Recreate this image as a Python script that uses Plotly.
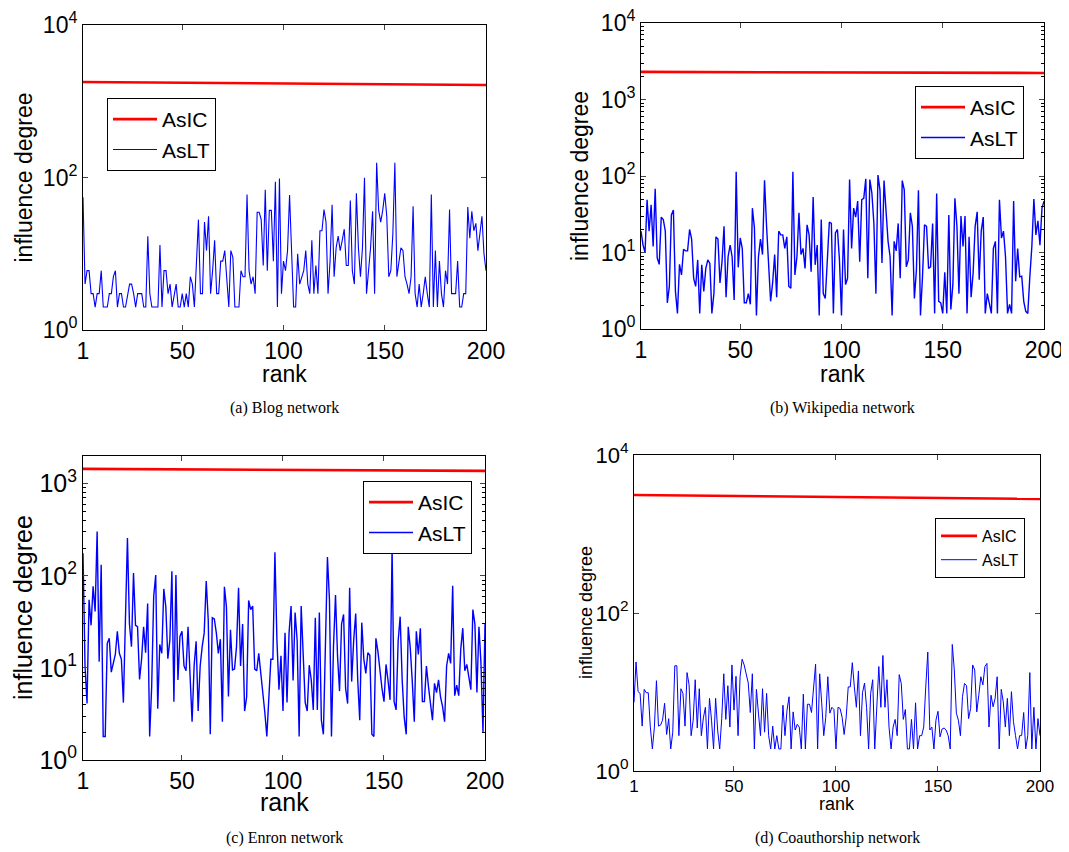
import plotly.graph_objects as go

ranks = list(range(1, 201))
ic_ranks = [1, 50, 100, 150, 200]

# ---------- (a) Blog network ----------
a_ic = [1790, 1760, 1710, 1670, 1630]
a_lt = [55, 4, 6, 6, 3, 3, 2, 3, 3, 6,
        2, 2, 2, 3, 3, 5, 6, 2, 3, 3,
        2, 2, 3, 4, 4, 3, 2, 3, 3, 3,
        2, 2, 17, 3, 2, 2, 2, 2, 13, 2,
        6, 6, 3, 4, 2, 3, 4, 2, 2, 3,
        2, 3, 2, 5, 4, 2, 8, 28, 3, 3,
        26, 11, 31, 3, 6, 15, 3, 3, 8, 8,
        11, 4, 2, 11, 9, 2, 2, 2, 6, 5,
        5, 60, 6, 4, 5, 3, 35, 35, 28, 7,
        69, 6, 37, 37, 8, 88, 2, 97, 3, 8,
        6, 11, 59, 11, 2, 2, 10, 4, 5, 6,
        11, 4, 3, 15, 3, 7, 3, 20, 20, 38,
        26, 3, 8, 44, 5, 12, 17, 11, 15, 21,
        7, 7, 50, 6, 4, 62, 12, 5, 12, 99,
        3, 6, 12, 36, 3, 156, 37, 26, 37, 62,
        31, 5, 6, 18, 156, 5, 8, 12, 11, 5,
        4, 3, 5, 42, 3, 2, 4, 2, 3, 5,
        3, 2, 60, 2, 11, 2, 8, 3, 2, 6,
        4, 38, 3, 3, 3, 8, 2, 2, 3, 3,
        41, 16, 36, 20, 25, 11, 20, 31, 10, 6]

# ---------- (b) Wikipedia network ----------
b_ic = [2300, 2280, 2260, 2240, 2220]
b_lt = [19, 12.5, 10, 49, 19, 42, 12, 68, 8.5, 7,
        29, 27, 19, 2.2, 3.6, 31, 36, 3.1, 1.6, 7,
        5.1, 11, 10.5, 10.5, 20, 15, 4.6, 3.6, 8, 1.6,
        6.9, 3.1, 6.2, 8, 7.2, 1.6, 2.9, 16, 15, 4,
        7.6, 22, 2.6, 8.8, 12.5, 8.8, 2.4, 114, 6.4, 15.5,
        11.3, 2.2, 2.2, 2.9, 2.1, 38, 21, 1.5, 8.8, 15,
        9.4, 88, 22, 8, 2.3, 4, 9.4, 2.6, 19, 17,
        17, 11.3, 16, 3.6, 3.4, 114, 5.1, 8.8, 33, 9.4,
        11.3, 6.2, 23, 17, 5.6, 53, 6.9, 12.5, 1.5, 27,
        2.9, 2.5, 8.8, 25, 24, 1.6, 18, 20, 8, 1.5,
        20, 3.8, 4.6, 90, 11.3, 38, 29, 47, 7.6, 49,
        51, 92, 4.6, 90, 60, 24, 2.9, 103, 66, 7.3,
        87, 40, 14, 8.8, 1.5, 14, 10.5, 24, 4.6, 87,
        66, 6.5, 8, 33, 22, 2.5, 5.9, 65, 1.5, 4.8,
        23, 22, 6.2, 6.5, 24, 1.6, 59, 2.3, 2.2, 1.6,
        5.5, 1.6, 31, 1.8, 3.8, 51, 22, 2.9, 30, 12,
        30, 1.6, 16, 2.6, 5.4, 22, 34, 4.4, 19, 29,
        1.6, 2.9, 2.2, 1.6, 11.3, 14, 1.6, 49, 15.5, 19,
        8.8, 1.6, 2.1, 1.6, 47, 4.2, 11.3, 4.8, 4.9, 2.3,
        1.7, 1.6, 4.8, 12, 50, 17, 26, 12.5, 38, 47]

# ---------- (c) Enron network ----------
c_ic = [1450, 1430, 1410, 1395, 1380]
c_lt = [176, 10.5, 4.1, 55, 29, 77, 41, 303, 11.7, 132,
        1.8, 1.8, 18.5, 21, 9, 11.2, 14, 25, 14.4, 12.4,
        4.2, 33, 257, 30, 17, 107, 29, 28, 7.5, 12.4,
        28, 14.6, 50, 1.8, 6.3, 60, 102, 3.6, 18, 14.4,
        72, 46, 12.6, 20, 112, 4.3, 102, 7.4, 22, 25,
        10.5, 9.3, 28, 8.2, 2.6, 10.5, 19.5, 3.4, 10.5, 17,
        24, 88, 33, 1.9, 35, 34, 24, 14.4, 20.5, 2.6,
        76, 46, 4.9, 26, 9.5, 9.7, 17, 74, 10.5, 30,
        3.4, 4.8, 54, 43, 47, 9.7, 9.3, 14.4, 9.3, 5.4,
        3.3, 1.8, 4.1, 12.4, 12.4, 180, 20, 5.8, 13.5, 3.4,
        24, 4.2, 24, 47, 7.3, 40, 20, 1.8, 47, 14,
        4.2, 3.4, 10.7, 7.4, 3.5, 35, 3.5, 40, 2.7, 1.9,
        16.5, 160, 55, 1.8, 17, 62, 13.5, 5.6, 30, 38,
        6, 4.1, 74, 7.1, 20, 39, 7.4, 2.7, 31, 12.6,
        8.7, 14.6, 13.7, 1.9, 1.8, 21, 15, 9.3, 6, 4.3,
        10.9, 7.3, 4.5, 200, 4.3, 3.5, 19.5, 36, 7.4, 2.9,
        1.9, 28, 16.5, 7.1, 2.6, 25, 14, 27, 4.3, 4.3,
        10.5, 6.3, 4.1, 2.7, 6.8, 5.4, 7.4, 4.8, 3.8, 2.6,
        10.5, 14.4, 11.2, 78, 5, 6.5, 5, 16, 27, 9.3,
        10.9, 8.2, 5.8, 43, 30, 5.4, 28, 11.2, 2.0, 30]

# ---------- (d) Coauthorship network ----------
d_ic = [3120, 3030, 2940, 2860, 2780]
d_lt = [7.4, 24, 10.1, 9.6, 3.7, 10.8, 9.8, 9.8, 3.6, 1.9,
        3.6, 13.9, 3.7, 3.8, 4.4, 7.2, 2.9, 4.6, 1.9, 3.1,
        21.5, 21.5, 2.8, 11, 9.6, 3.7, 17.6, 12.3, 2.8, 4.4,
        14.3, 3.5, 11, 2.8, 4.7, 6.4, 1.9, 8.3, 4.4, 1.9,
        8.3, 3.3, 1.9, 4.6, 17, 4.5, 12, 3.6, 22, 5.9,
        15.8, 2.8, 15.6, 26, 22, 17, 13, 5.5, 17, 1.9,
        10.8, 5.4, 2.8, 11, 3.1, 9.6, 2.8, 1.9, 3.7, 1.9,
        2.8, 1.9, 1.9, 6.8, 2.8, 5.9, 8.7, 1.9, 5.6, 3.3,
        3.9, 3.6, 1.9, 9.4, 1.9, 7, 7, 5.5, 13, 22.5,
        1.9, 17, 7.3, 2.8, 4.8, 15.6, 5.4, 6.4, 6, 1.9,
        6.4, 6.2, 4.8, 2.9, 4.8, 11.6, 11.6, 23.5, 11.6, 6.4,
        18.5, 2.8, 9.8, 13, 6.4, 1.9, 9.6, 14.3, 1.9, 5.9,
        21, 6.4, 29, 6.4, 14.3, 3.6, 1.9, 3.6, 4.5, 2.8,
        16.6, 12.8, 4.5, 6, 1.9, 1.9, 4.5, 1.9, 7.3, 1.9,
        2.8, 2.8, 3.6, 11.6, 32, 3.3, 3.6, 1.9, 4.4, 5.7,
        2.7, 3.4, 3.5, 3.3, 2.8, 1.9, 40, 19, 5.4, 4.4,
        2.8, 8.7, 12.8, 12, 4.6, 6.2, 22, 19, 5.6, 9.1,
        15.6, 12.3, 21, 23, 3.6, 9.1, 6.5, 8.3, 15.6, 1.9,
        10.8, 7.5, 3.6, 8.3, 2.8, 10.1, 4.2, 2.8, 1.9, 2.8,
        2.8, 5.5, 1.9, 2.8, 17.6, 1.9, 6.4, 1.9, 4.6, 2.8]

x_tickvals = [1, 50, 100, 150, 200]
x_ticktext = ["1", "50", "100", "150", "200"]
captions = ["(a) Blog network", "(b) Wikipedia network",
            "(c) Enron network", "(d) Coauthorship network"]

for arr in (a_lt, b_lt, c_lt, d_lt):
    assert len(arr) == 200, len(arr)

W, H = 1069, 852
OFF = 8  # page body margin offset
def fx(px): return (px - OFF) / W
def fy(py): return 1 - (py - OFF) / H

RED = "#FF0000"
BLUE = "#0000FF"
FONT = "Liberation Sans, Arial, sans-serif"

panels = [
    dict(box=(83, 486, 25, 330), yr=[0, 4], maj=[1, 100, 10000], minor=False,
         tf=23, xtf=23, lw=1.1, ic=a_ic, lt=a_lt),
    dict(box=(641, 1044, 23, 329), yr=[0, 4], maj=[1, 10, 100, 1000, 10000], minor=True,
         tf=23, xtf=23, lw=1.4, ic=b_ic, lt=b_lt),
    dict(box=(83, 485, 456, 760), yr=[0, 3.301], maj=[1, 10, 100, 1000], minor=True,
         tf=25, xtf=23, lw=1.4, ic=c_ic, lt=c_lt),
    dict(box=(634, 1040, 455, 771), yr=[0, 4], maj=[1, 100, 10000], minor=False,
         tf=22, xtf=17, lw=1.0, ic=d_ic, lt=d_lt),
]

exp = {1: "0", 10: "1", 100: "2", 1000: "3", 10000: "4"}
minor_vals = [m * 10 ** e for e in range(0, 4) for m in range(2, 10)]

fig = go.Figure()
layout = dict(width=W, height=H,
              margin=dict(l=0, r=0, t=0, b=0, pad=0, autoexpand=False),
              paper_bgcolor="white", plot_bgcolor="white",
              font=dict(family=FONT, color="black"))

legend_specs = [
    dict(x=107, y=98, fs=21, iw=44),
    dict(x=915, y=86, fs=21, iw=44),
    dict(x=363, y=481, fs=21, iw=44),
    dict(x=935, y=518, fs=16, iw=36),
]

annotations = []
for i, p in enumerate(panels):
    n = "" if i == 0 else str(i + 1)
    x0, x1, yt, yb = p["box"]
    xa = dict(domain=[fx(x0), fx(x1)], anchor="y" + n, range=[1, 200],
              tickvals=x_tickvals, ticktext=x_ticktext, ticks="inside", ticklen=5,
              showline=True, linecolor="black", linewidth=1, mirror="ticks",
              showgrid=False, zeroline=False, automargin=False,
              ticklabeloverflow="allow",
              tickfont=dict(size=p["xtf"], family=FONT, color="black"))
    ya = dict(domain=[fy(yb), fy(yt)], anchor="x" + n, type="log", range=p["yr"],
              tickvals=p["maj"], ticktext=["10<sup>%s</sup>" % exp[v] for v in p["maj"]],
              ticks="inside", ticklen=5, showline=True, linecolor="black", linewidth=1,
              mirror="ticks", showgrid=False, zeroline=False, automargin=False,
              ticklabeloverflow="allow",
              tickfont=dict(size=p["tf"], family=FONT, color="black"))
    if p["minor"]:
        ya["minor"] = dict(ticks="inside", ticklen=3, tickvals=minor_vals,
                           tickcolor="black", showgrid=False)
    layout["xaxis" + n] = xa
    layout["yaxis" + n] = ya

    lg = "legend" + n
    ls = legend_specs[i]
    layout[lg] = dict(x=fx(ls["x"]), y=fy(ls["y"]), xanchor="left", yanchor="top",
                      bordercolor="black", borderwidth=1, bgcolor="white",
                      font=dict(size=ls["fs"], family=FONT, color="black"),
                      itemwidth=ls["iw"], tracegroupgap=0)

    fig.add_trace(go.Scatter(x=ic_ranks, y=p["ic"], mode="lines", name="AsIC",
                             line=dict(color=RED, width=2.6),
                             xaxis="x" + n, yaxis="y" + n, legend=lg))
    fig.add_trace(go.Scatter(x=ranks, y=p["lt"], mode="lines", name="AsLT",
                             line=dict(color=BLUE, width=p["lw"]),
                             xaxis="x" + n, yaxis="y" + n, legend=lg))

    cx = (x0 + x1) / 2
    lab_fs = 18 if i == 3 else (25 if i == 2 else 23)
    ylx = {0: 23, 1: 580, 2: 23, 3: 586}[i]
    annotations.append(dict(text="influence degree", x=fx(ylx), y=fy((yt + yb) / 2),
                            xref="paper", yref="paper", showarrow=False, textangle=-90,
                            font=dict(size=lab_fs, family=FONT, color="black"),
                            xanchor="center", yanchor="middle"))
    xly = {0: 374, 1: 374, 2: 802, 3: 804}[i]
    annotations.append(dict(text="rank", x=fx(cx), y=fy(xly), xref="paper", yref="paper",
                            showarrow=False,
                            font=dict(size=lab_fs, family=FONT, color="black"),
                            xanchor="center", yanchor="middle"))
    capy = 408 if i < 2 else 838
    annotations.append(dict(text=captions[i], x=fx(cx), y=fy(capy), xref="paper",
                            yref="paper", showarrow=False,
                            font=dict(size=16, family="Liberation Serif, Times New Roman, serif",
                                      color="black"),
                            xanchor="center", yanchor="middle"))

layout["annotations"] = annotations
fig.update_layout(**layout)
fig.write_html("out.html")
